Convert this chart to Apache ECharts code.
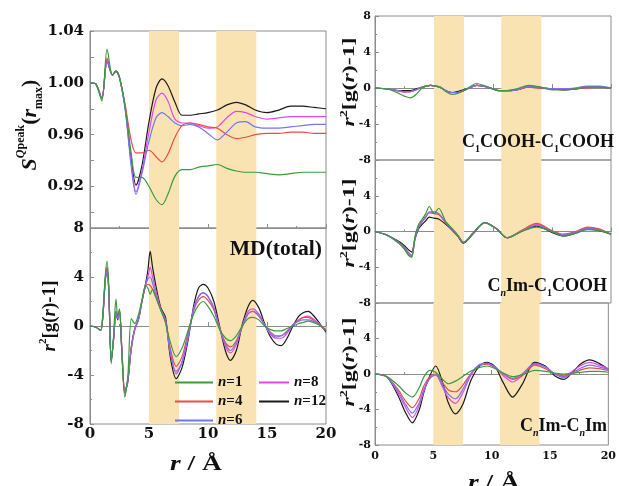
<!doctype html>
<html>
<head>
<meta charset="utf-8">
<title>r2[g(r)-1] panels</title>
<style>html,body{margin:0;background:#fff}#main{width:619px;height:486px}</style>
</head>
<body>
<div id="main"></div>
<script src="https://cdn.jsdelivr.net/npm/echarts@6/dist/echarts.min.js"></script>
<script>
var names = ['n=1', 'n=4', 'n=6', 'n=8', 'n=12'];
var colors = ['#3c9a3c', '#ee4a44', '#7474f4', '#e448e8', '#1a1a1a'];
var bands = [[5, 7.55], [10.7, 14.1]];

// S^Qpeak(r_max)
var sR = [0,0.5,1.0,1.45,1.9,2.2,2.5,3.0,3.5,3.9,4.4,5.0,5.6,6.1,6.6,7.2,7.8,8.5,9.2,10.0,10.8,11.6,12.4,13.2,14.0,15.0,16.0,17.0,18.0,19.0,20.0];
var sN1 = [1.000,0.999,0.986,1.026,1.006,1.009,1.004,0.980,0.945,0.927,0.927,0.920,0.910,0.906,0.914,0.928,0.933,0.933,0.935,0.936,0.937,0.934,0.932,0.931,0.931,0.930,0.929,0.930,0.931,0.931,0.931];
var sN4 = [1.000,0.999,0.988,1.019,1.006,1.009,1.004,0.982,0.955,0.946,0.946,0.948,0.943,0.939,0.945,0.958,0.967,0.969,0.968,0.966,0.965,0.960,0.957,0.958,0.960,0.961,0.961,0.962,0.962,0.961,0.961];
var sN6 = [1.000,0.999,0.988,1.017,1.006,1.009,1.004,0.978,0.935,0.914,0.930,0.955,0.973,0.977,0.974,0.969,0.967,0.968,0.966,0.961,0.956,0.962,0.969,0.970,0.966,0.965,0.965,0.966,0.967,0.968,0.968];
var sN8 = [1.000,0.999,0.988,1.018,1.006,1.009,1.004,0.979,0.937,0.916,0.932,0.962,0.987,0.992,0.986,0.972,0.969,0.969,0.967,0.965,0.966,0.973,0.978,0.977,0.974,0.972,0.973,0.974,0.974,0.974,0.974];
var sN12 = [1.000,0.999,0.988,1.017,1.006,1.009,1.004,0.980,0.940,0.921,0.936,0.970,0.996,1.003,0.998,0.985,0.975,0.975,0.976,0.977,0.979,0.983,0.985,0.983,0.979,0.977,0.979,0.982,0.982,0.981,0.980];

// MD(total)
var mdR = [0,0.5,0.9,1.1,1.3,1.45,1.6,1.8,2.0,2.2,2.35,2.5,2.7,2.95,3.2,3.5,3.8,4.1,4.4,4.7,4.9,5.1,5.3,5.6,6.0,6.4,6.8,7.3,7.8,8.3,8.8,9.2,9.6,10.0,10.5,11.0,11.5,11.9,12.4,12.9,13.4,13.8,14.3,14.8,15.3,15.8,16.2,16.7,17.2,17.7,18.1,18.5,18.9,19.4,20];
var mdN1 = [0,-0.1,-0.35,1.2,4.2,5.3,3.0,-3.1,-0.8,2.2,0.8,1.4,-2.2,-5.8,-4.2,0.6,0.2,0.9,2.1,3.3,3.1,2.6,3.0,2.3,1.3,0.3,-1.3,-2.5,-1.8,-0.4,1.0,1.7,2.0,1.6,0.8,-0.3,-1.0,-1.2,-0.8,0.0,0.6,0.7,0.5,0.0,-0.3,-0.4,-0.4,-0.2,0.0,0.2,0.3,0.4,0.3,0.1,-0.3];
var mdN4 = [0,-0.1,-0.35,1.0,3.9,4.8,2.8,-2.9,-1.0,1.2,0.6,1.2,-2.0,-5.5,-4.4,-1.8,-0.3,0.5,2.0,3.2,3.4,3.3,3.0,2.3,1.3,0.3,-1.8,-3.3,-2.5,-0.6,1.3,2.1,2.4,2.1,1.3,-0.2,-1.4,-1.7,-1.2,-0.1,1.0,1.2,0.8,0.1,-0.5,-0.8,-0.8,-0.4,0.1,0.5,0.7,0.7,0.5,0.1,-0.4];
var mdN6 = [0,-0.1,-0.35,1.0,3.8,4.5,2.7,-2.9,-1.0,1.1,0.6,1.1,-2.0,-5.4,-4.4,-1.9,-0.3,0.5,2.0,3.3,3.8,4.0,3.5,2.5,1.3,0.4,-2.0,-3.9,-2.9,-0.9,1.4,2.4,2.7,2.4,1.4,-0.3,-1.5,-2.0,-1.3,0.0,1.0,1.2,0.9,0.1,-0.6,-0.9,-0.8,-0.5,0.1,0.4,0.5,0.5,0.4,0.1,-0.3];
var mdN8 = [0,-0.1,-0.35,1.0,3.9,4.7,2.8,-2.9,-1.0,1.2,0.6,1.2,-2.0,-5.5,-4.5,-1.8,-0.2,0.5,2.0,3.4,4.0,4.8,4.0,2.8,1.4,0.5,-2.2,-3.7,-3.0,-1.0,1.5,2.4,2.7,2.4,1.5,-0.2,-1.7,-2.2,-1.5,0.0,1.2,1.4,1.0,0.1,-0.7,-1.0,-1.0,-0.6,0.1,0.5,0.7,0.8,0.6,0.2,-0.4];
var mdN12 = [0,-0.1,-0.35,0.9,3.8,4.6,2.6,-2.8,-1.1,1.0,0.5,1.3,-2.0,-5.3,-4.6,-1.7,-0.2,0.5,2.0,3.4,4.5,6.1,4.8,3.2,1.5,0.7,-2.5,-4.3,-3.4,-1.2,1.7,3.1,3.4,3.1,2.0,-0.1,-2.1,-2.8,-2.0,0.1,1.6,2.1,1.5,0.2,-0.9,-1.5,-1.6,-1.0,0.0,0.8,1.1,1.2,0.9,0.3,-0.5];

// C1COOH-C1COOH
var aR = [0,1,1.5,2,2.5,3,3.5,4,4.7,5.5,6,6.5,7,7.5,8,8.6,9.2,10,10.5,11,12,13,14,15,16,17,18,19,20];
var aN1 = [0,-0.1,-0.3,-0.6,-0.9,-1.1,-0.7,0.0,0.3,0.1,-0.4,-0.7,-0.6,-0.3,0.1,0.5,0.3,-0.1,-0.3,-0.3,-0.1,0.3,0.1,-0.2,-0.2,-0.1,0.1,0.1,0.0];
var aN4 = [0,-0.1,-0.2,-0.3,-0.4,-0.4,-0.2,0.1,0.3,0.1,-0.3,-0.5,-0.5,-0.3,0.0,0.3,0.2,-0.1,-0.3,-0.3,-0.2,0.1,0.0,-0.1,-0.2,-0.1,0.0,0.1,0.0];
var aN6 = [0,-0.1,-0.2,-0.3,-0.4,-0.4,-0.2,0.1,0.3,0.1,-0.3,-0.5,-0.5,-0.3,0.0,0.3,0.2,-0.1,-0.3,-0.3,-0.2,0.2,0.1,-0.1,-0.1,0.0,0.2,0.2,0.0];
var aN8 = [0,-0.1,-0.2,-0.35,-0.45,-0.4,-0.2,0.1,0.3,0.1,-0.3,-0.5,-0.5,-0.3,0.0,0.3,0.2,-0.1,-0.3,-0.3,-0.2,0.1,0.0,-0.1,-0.1,0.0,0.1,0.1,0.0];
var aN12 = [0,-0.1,-0.2,-0.3,-0.3,-0.3,-0.1,0.1,0.3,0.1,-0.3,-0.5,-0.4,-0.2,0.0,0.3,0.2,-0.1,-0.3,-0.3,-0.2,0.1,0.0,-0.1,-0.2,-0.1,0.1,0.1,0.0];

// CnIm-C1COOH
var bR = [0,1,2,2.5,2.8,3.1,3.4,3.7,4.0,4.3,4.6,5.0,5.4,6.0,6.5,7.0,7.5,8.3,9.3,10.3,11.2,12.4,13.7,15.0,16.0,17.0,18.0,19.0,20];
var bN1 = [0,-0.4,-1.3,-2.0,-2.6,-2.9,-0.5,0.8,1.4,2.0,2.8,2.0,2.6,1.1,0.4,-0.4,-1.2,-0.2,1.0,0.3,-0.7,0.0,0.5,0.0,-0.5,-0.2,0.2,0.1,-0.3];
var bN4 = [0,-0.4,-1.2,-1.8,-2.3,-2.7,-0.6,0.6,1.2,1.7,2.1,2.0,1.9,1.0,0.3,-0.4,-1.2,-0.2,1.0,0.3,-0.7,0.1,0.9,0.1,-0.3,0.0,0.5,0.3,-0.3];
var bN6 = [0,-0.4,-1.2,-1.8,-2.3,-2.7,-0.7,0.5,1.1,1.6,2.2,2.2,2.0,1.0,0.3,-0.4,-1.2,-0.2,1.0,0.3,-0.7,0.0,0.7,0.0,-0.4,-0.1,0.3,0.2,-0.3];
var bN8 = [0,-0.4,-1.3,-1.9,-2.5,-2.8,-0.7,0.5,1.1,1.6,2.1,2.1,2.0,1.0,0.3,-0.4,-1.2,-0.2,1.0,0.3,-0.7,0.0,0.8,0.0,-0.4,-0.1,0.4,0.2,-0.3];
var bN12 = [0,-0.4,-1.1,-1.6,-2.0,-2.3,-0.8,0.3,0.8,1.2,1.6,1.5,1.4,0.8,0.2,-0.5,-1.3,-0.3,1.0,0.3,-0.7,0.0,0.6,-0.1,-0.5,-0.2,0.3,0.1,-0.3];

// CnIm-CnIm
var cR = [0,1,2,2.6,3.2,3.8,4.2,4.7,5.2,5.8,6.3,6.9,7.5,8.2,8.9,9.6,10.3,11.0,11.8,12.6,13.7,14.6,15.4,16.2,17.0,17.7,18.4,19.2,20];
var cN1 = [0,-0.3,-1.3,-2.1,-2.6,-1.5,-0.3,0.4,0.2,-0.6,-1.1,-0.8,-0.3,0.3,0.7,0.9,0.6,0.1,-0.3,-0.1,0.4,0.3,0.1,0.0,0.1,0.2,0.3,0.3,0.2];
var cN4 = [0,-0.3,-1.8,-3.0,-3.8,-2.7,-1.3,-0.3,0.0,-1.0,-1.8,-2.0,-1.3,0.0,0.9,1.1,0.7,0.0,-0.6,-0.2,1.0,0.6,0.0,-0.2,0.1,0.5,0.7,0.6,0.4];
var cN6 = [0,-0.3,-2.0,-3.4,-4.4,-3.2,-1.7,-0.5,-0.1,-1.3,-2.3,-2.8,-1.8,0.0,1.0,1.2,0.8,0.0,-0.5,0.0,1.2,0.8,0.0,-0.4,0.2,0.7,1.0,0.8,0.5];
var cN8 = [0,-0.3,-2.2,-3.7,-4.9,-3.5,-1.9,-0.5,-0.1,-1.5,-2.7,-3.3,-2.2,-0.2,1.0,1.2,0.7,-0.2,-0.9,-0.2,1.1,0.8,0.0,-0.3,0.4,1.0,1.3,1.0,0.6];
var cN12 = [0,-0.3,-2.5,-4.3,-5.5,-4.0,-2.0,-0.2,0.9,-1.0,-3.3,-4.5,-3.5,-0.8,0.8,1.3,0.8,-1.0,-2.6,-1.2,1.3,0.9,-0.2,-0.6,0.3,1.2,1.6,1.2,0.5];

var panels = [
    {r: sR, ys: [sN1, sN4, sN6, sN8, sN12]},
    {r: mdR, ys: [mdN1, mdN4, mdN6, mdN8, mdN12]},
    {r: aR, ys: [aN1, aN4, aN6, aN8, aN12]},
    {r: bR, ys: [bN1, bN4, bN6, bN8, bN12]},
    {r: cR, ys: [cN1, cN4, cN6, cN8, cN12]}
];

var FONT = 'Liberation Serif';
var NUMFONT = 'DejaVu Serif';
var frame = '#8c8c8c';

var grids = [
    {left: 90, top: 31, width: 236, height: 197},
    {left: 90, top: 228, width: 236, height: 196},
    {left: 375, top: 16, width: 236, height: 144},
    {left: 375, top: 160, width: 236, height: 143},
    {left: 375, top: 303, width: 236, height: 142}
].map(function (g) {
    g.show = true;
    g.borderColor = frame;
    g.borderWidth = 1;
    g.containLabel = false;
    return g;
});

var big = {fontFamily: NUMFONT, fontWeight: 'bold', fontSize: 15, color: '#111'};
var small = {fontFamily: NUMFONT, fontWeight: 'bold', fontSize: 11, color: '#111'};

var xAxes = grids.map(function (g, i) {
    var left = i < 2;
    return {
        type: 'value', gridIndex: i, min: 0, max: 20, interval: 5,
        axisLine: {lineStyle: {color: frame}},
        axisTick: {inside: true, length: 4, lineStyle: {color: frame}},
        minorTick: {show: true, splitNumber: 2, length: 2, lineStyle: {color: frame}},
        splitLine: {show: false},
        axisLabel: Object.assign({show: i === 1 || i === 4, margin: left ? 3 : 6}, left ? big : small)
    };
});

var yAxes = grids.map(function (g, i) {
    var left = i < 2;
    var ax = {
        type: 'value', gridIndex: i, min: -8, max: 8, interval: 4,
        axisLine: {lineStyle: {color: frame}},
        axisTick: {inside: true, length: 4, lineStyle: {color: frame}},
        minorTick: {show: true, splitNumber: 2, length: 2, lineStyle: {color: frame}},
        splitLine: {show: false},
        axisLabel: Object.assign({margin: left ? 6 : 4, showMaxLabel: !(i === 3 || i === 4)}, left ? big : small)
    };
    if (i === 0) {
        ax.min = 0.888;
        ax.max = 1.04;
        delete ax.interval;
        ax.minorTick = {show: false};
        ax.axisTick = {inside: true, length: 4, lineStyle: {color: frame},
            customValues: [0.90, 0.92, 0.94, 0.96, 0.98, 1.00, 1.02, 1.04]};
        ax.axisLabel = Object.assign({margin: 6, customValues: [0.92, 0.96, 1.00, 1.04],
            formatter: function (v) { return v.toFixed(2); }}, big);
    }
    return ax;
});

var order = [4, 3, 1, 2, 0];
var series = [];
panels.forEach(function (p, gi) {
    series.push({
        type: 'line', xAxisIndex: gi, yAxisIndex: gi, data: [], silent: true, z: 1,
        markArea: {silent: true, itemStyle: {color: '#fae3b3'},
            data: bands.map(function (b) { return [{xAxis: b[0]}, {xAxis: b[1]}]; })}
    });
    order.forEach(function (k) {
        series.push({
            type: 'line', name: names[k], xAxisIndex: gi, yAxisIndex: gi, z: 3,
            symbol: 'none', smooth: 0.3, color: colors[k],
            lineStyle: {width: 1.2, color: colors[k]},
            data: p.r.map(function (x, j) { return [x, p.ys[k][j]]; })
        });
    });
});

var legendText = {fontFamily: FONT, fontWeight: 'bold', fontSize: 15, color: '#111',
    rich: {i: {fontFamily: FONT, fontWeight: 'bold', fontStyle: 'italic', fontSize: 15, color: '#111'}}};
function legendFmt(name) { return '{i|n}' + name.slice(1); }

function rs(size, extra) { return Object.assign({fontFamily: FONT, fontWeight: 'bold', fontSize: size, fill: '#111'}, extra || {}); }

function gtitle(x, y) {
    return {
        type: 'text', x: x, y: y, rotation: Math.PI / 2, scaleX: 1.4, z: 10,
        style: {text: '{ri|r}{sup|2}{b|[g(}{ri|r}{b|)-1]}', align: 'center', verticalAlign: 'middle',
            rich: {ri: rs(17, {fontStyle: 'italic', lineHeight: 22}), b: rs(17, {lineHeight: 22}),
                sup: rs(10, {verticalAlign: 'top', lineHeight: 10})}}
    };
}

function ptitle(x, y, txt) {
    return {
        type: 'text', x: x, y: y, z: 10,
        style: {text: txt, align: 'right', verticalAlign: 'middle',
            rich: {b: rs(18, {lineHeight: 24}), s: rs(10, {verticalAlign: 'bottom', lineHeight: 10}),
                si: rs(10, {fontStyle: 'italic', verticalAlign: 'bottom', lineHeight: 10})}}
    };
}

function rtitle(x, y) {
    return {
        type: 'text', x: x, y: y, scaleX: 1.25, z: 10,
        style: {text: '{ri|r}{b| / Å}', align: 'center', verticalAlign: 'middle',
            rich: {ri: rs(22, {fontStyle: 'italic'}), b: rs(22)}}
    };
}

var graphic = [
    {
        type: 'text', x: 30, y: 125, rotation: Math.PI / 2, z: 10,
        style: {text: '{si|S}{supi|Q}{sup|peak}{b|(}{si|r}{sub|max}{b|)}', align: 'center', verticalAlign: 'middle',
            rich: {si: rs(22, {fontStyle: 'italic', lineHeight: 30}), b: rs(22, {lineHeight: 30}),
                supi: rs(12, {fontStyle: 'italic', verticalAlign: 'top', lineHeight: 12}),
                sup: rs(12, {verticalAlign: 'top', lineHeight: 12}),
                sub: rs(12, {verticalAlign: 'bottom', lineHeight: 12})}}
    },
    {
        type: 'text', x: 50, y: 316, rotation: Math.PI / 2, z: 10,
        style: {text: '{ri|r}{sup|2}{b|[g(}{ri|r}{b|)-1]}', align: 'center', verticalAlign: 'middle',
            rich: {ri: rs(19, {fontStyle: 'italic', lineHeight: 24}), b: rs(19, {lineHeight: 24}),
                sup: rs(11, {verticalAlign: 'top', lineHeight: 11})}}
    },
    gtitle(350, 82), gtitle(350, 223), gtitle(350, 362),
    rtitle(196, 464),
    rtitle(494, 483),
    {
        type: 'text', x: 322, y: 250, scaleX: 1.08, originX: 0, z: 10,
        style: {text: 'MD(total)', align: 'right', verticalAlign: 'middle',
            fontFamily: FONT, fontWeight: 'bold', fontSize: 20, fill: '#111'}
    },
    ptitle(614, 142, '{b|C}{s|1}{b|COOH-C}{s|1}{b|COOH}'),
    ptitle(607, 286, '{b|C}{si|n}{b|Im-C}{s|1}{b|COOH}'),
    ptitle(607, 426, '{b|C}{si|n}{b|Im-C}{si|n}{b|Im}')
];

var myChart = echarts.init(document.getElementById('main'));
myChart.setOption({
    backgroundColor: '#fff',
    animation: false,
    grid: grids,
    xAxis: xAxes,
    yAxis: yAxes,
    legend: [
        {left: 170, top: 370, orient: 'vertical', data: names.slice(0, 3), icon: 'rect',
            itemWidth: 38, itemHeight: 2, itemGap: 4, textStyle: legendText, formatter: legendFmt},
        {left: 254, top: 370, orient: 'vertical', data: names.slice(3), icon: 'rect',
            itemWidth: 30, itemHeight: 2, itemGap: 4, textStyle: legendText, formatter: legendFmt}
    ],
    graphic: graphic,
    series: series
});
</script>
</body>
</html>
